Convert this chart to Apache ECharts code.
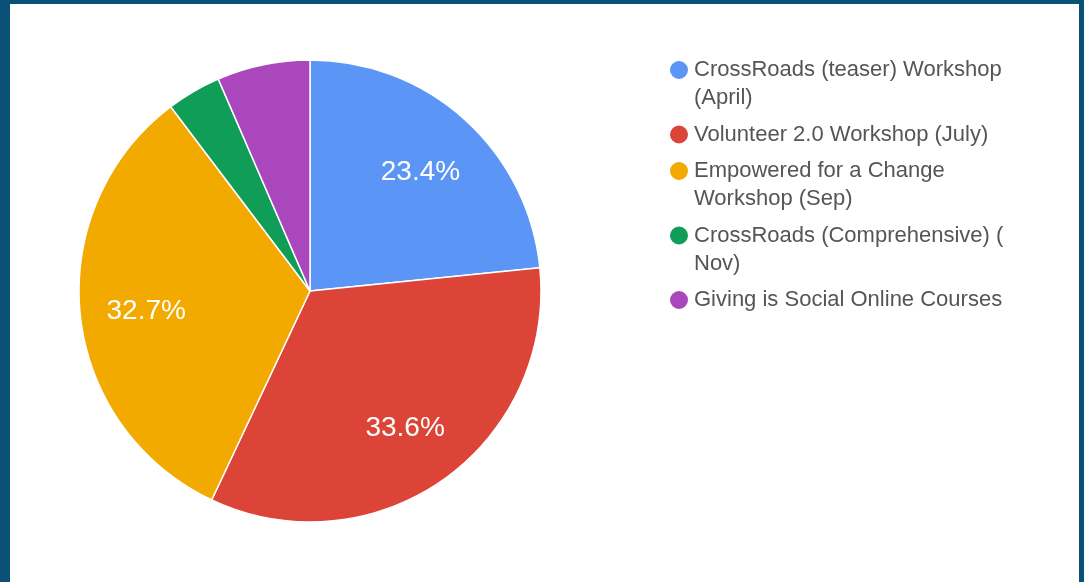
<!DOCTYPE html>
<html>
<head>
<meta charset="utf-8">
<script src="https://cdn.jsdelivr.net/npm/echarts@6/dist/echarts.min.js"></script>
<style>
  html, body { margin: 0; padding: 0; width: 1084px; height: 582px; background: #0b5177; overflow: hidden; }
  #chart { position: absolute; left: 10px; top: 4px; width: 1069px; height: 578px; background: #ffffff; }
</style>
</head>
<body>
<div id="chart"></div>
<script>
const categories = [
  'CrossRoads (teaser) Workshop\n(April)',
  'Volunteer 2.0 Workshop (July)',
  'Empowered for a Change\nWorkshop (Sep)',
  'CrossRoads (Comprehensive) (\nNov)',
  'Giving is Social Online Courses'
];
const values = [23.4, 33.6, 32.7, 3.8, 6.5];
const colors = ['#5b95f6', '#db4437', '#f2a900', '#0f9d58', '#ab47bc'];
const labelMin = 10;

const chart = echarts.init(document.getElementById('chart'));
const data = categories.map((name, i) => ({ name, value: values[i] }));
const R = 231;
const LH = 28;
const FONT = 'Liberation Sans, Arial, sans-serif';

// legend layout: icon aligned with the first text line of each item
const legends = [];
let cy = 66;
categories.forEach((name) => {
  const lines = name.split('\n').length;
  const shown = 2 * lines - 1;
  legends.push({
    orient: 'vertical',
    left: 658,
    top: cy - shown * LH / 2,
    icon: 'circle',
    itemWidth: 20,
    itemHeight: 20,
    padding: 0,
    data: [name],
    formatter: n => '\n'.repeat(lines - 1) + n,
    textStyle: { fontFamily: FONT, fontSize: 22, color: '#555555', lineHeight: LH }
  });
  cy += (lines - 1) * LH + 36.5;
});

chart.setOption({
  animation: false,
  color: colors,
  legend: legends,
  series: [
    {
      type: 'pie',
      center: [300, 287],
      radius: [0, R],
      startAngle: 90,
      clockwise: true,
      data: data,
      label: { show: false },
      labelLine: { show: false },
      itemStyle: { borderColor: '#ffffff', borderWidth: 1.5 },
      emphasis: { disabled: true }
    },
    {
      type: 'pie',
      center: [300, 290],
      radius: [R * 0.4, R],
      startAngle: 90,
      clockwise: true,
      silent: true,
      legendHoverLink: false,
      data: data.map(d => ({ name: d.name, value: d.value })),
      itemStyle: { color: 'transparent', borderWidth: 0 },
      label: {
        show: true,
        position: 'inside',
        color: '#ffffff',
        fontFamily: FONT,
        fontSize: 28,
        formatter: p => p.value >= labelMin ? p.value.toFixed(1) + '%' : ''
      },
      labelLine: { show: false },
      emphasis: { disabled: true }
    }
  ]
});
</script>
</body>
</html>
